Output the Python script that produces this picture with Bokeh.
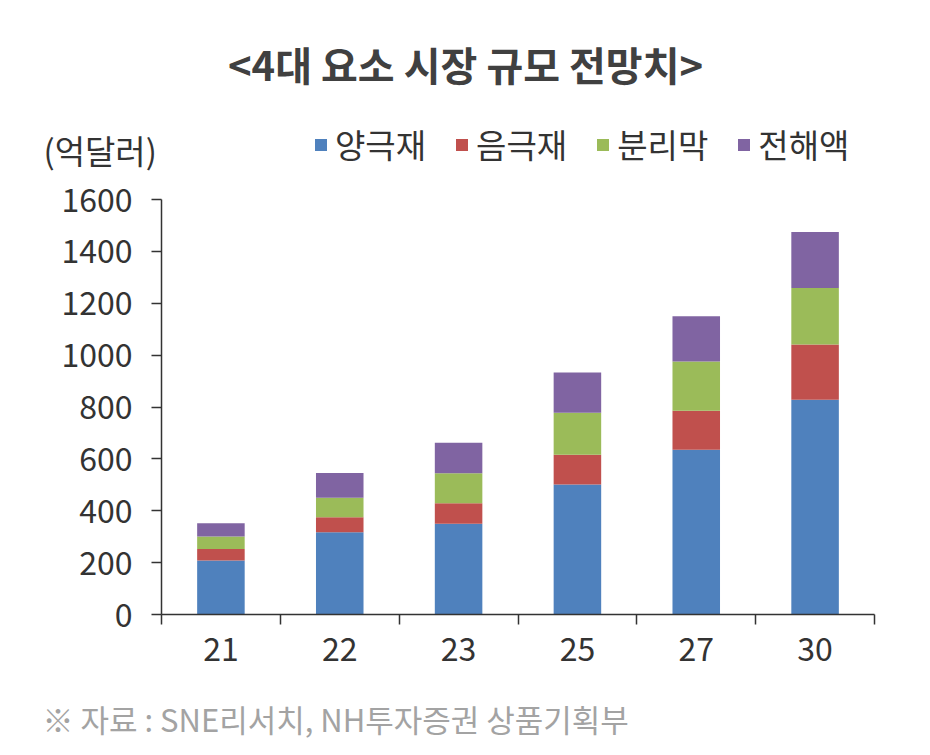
from bokeh.plotting import figure
from bokeh.layouts import column
from bokeh.models import Range1d, FixedTicker, Label, Legend, LegendItem, ColumnDataSource
from bokeh.embed import file_html
from bokeh.resources import INLINE

years = ["21", "22", "23", "25", "27", "30"]
series = ["양극재", "음극재", "분리막", "전해액"]
cathode = [208, 317, 350, 501, 635, 828]
anode = [45, 58, 79, 115, 151, 213]
separator = [48, 75, 116, 162, 189, 218]
electrolyte = [51, 96, 117, 155, 175, 216]
colors = ["#4f81bd", "#c0504d", "#9bbb59", "#8064a2"]
y_ticks = [0, 200, 400, 600, 800, 1000, 1200, 1400, 1600]
title_text = "<4대 요소 시장 규모 전망치>"
unit_text = "(억달러)"
source_text = "※ 자료 : SNE리서치, NH투자증권 상품기획부"

FONT = "Noto Sans CJK KR"
W = 930
HEAD_H = 175
MAIN_H = 505
FOOT_H = 75


def bare(fig):
    fig.outline_line_color = None
    fig.background_fill_color = "white"
    fig.border_fill_color = "white"
    if "frame_align" in fig.properties():
        fig.frame_align = False
    return fig


# ---------- header: title, unit, legend ----------
head = bare(figure(width=W, height=HEAD_H, output_backend="svg", toolbar_location=None,
                   x_range=Range1d(0, W), y_range=Range1d(HEAD_H, 0),
                   x_axis_type=None, y_axis_type=None, min_border=0,
                   min_border_left=0, min_border_right=0, min_border_top=0, min_border_bottom=0))
head.grid.visible = False
head.add_layout(Label(x=465, y=63, text=title_text, text_font=FONT, text_font_size="40px",
                      text_font_style="bold", text_color="#404040",
                      text_align="center", text_baseline="middle"))
head.add_layout(Label(x=43, y=149, text=unit_text, text_font=FONT, text_font_size="33px",
                      text_color="#333333", text_align="left", text_baseline="middle"))
# zero-size key glyphs that only give the legend its coloured squares
key_renderers = [head.vbar(x=[0], top=[0], bottom=[0], width=0, color=c, line_width=0) for c in colors]
legend = Legend(items=[LegendItem(label=s, renderers=[r]) for s, r in zip(series, key_renderers)],
                orientation="horizontal", location=(313, 7),
                glyph_width=15, glyph_height=15, label_standoff=7, spacing=28,
                label_text_font=FONT, label_text_font_size="33px", label_text_color="#333333",
                padding=0, margin=0, border_line_color=None, background_fill_alpha=0)
head.add_layout(legend, "center")

# ---------- main chart ----------
xs = [i + 0.5 for i in range(len(years))]
src = ColumnDataSource(dict(x=xs, 양극재=cathode, 음극재=anode, 분리막=separator, 전해액=electrolyte))

p = bare(figure(width=W, height=MAIN_H, output_backend="svg", toolbar_location=None,
                x_range=Range1d(0, len(years)), y_range=Range1d(0, 1600),
                min_border_left=161, min_border_right=56, min_border_top=24, min_border_bottom=66))
p.xgrid.visible = False
p.ygrid.visible = False

p.vbar_stack(series, x="x", width=0.4, source=src, color=colors, line_width=0)

p.yaxis.ticker = FixedTicker(ticks=y_ticks)
p.yaxis.major_label_text_font = FONT
p.yaxis.major_label_text_font_size = "32px"
p.yaxis.major_label_text_color = "#333333"
p.yaxis.major_tick_out = 10
p.yaxis.major_tick_in = 0
p.yaxis.minor_tick_line_color = None
p.yaxis.major_label_standoff = 19
p.yaxis.axis_line_color = "#333333"
p.yaxis.axis_line_width = 1.5
p.yaxis.major_tick_line_color = "#333333"
p.yaxis.major_tick_line_width = 1.5

p.xaxis.ticker = FixedTicker(ticks=xs, minor_ticks=list(range(len(years) + 1)))
p.xaxis.major_label_overrides = {x: y for x, y in zip(xs, years)}
p.xaxis.major_tick_line_color = None
p.xaxis.minor_tick_out = 10
p.xaxis.minor_tick_in = 0
p.xaxis.minor_tick_line_color = "#333333"
p.xaxis.minor_tick_line_width = 1.5
p.xaxis.axis_line_color = "#333333"
p.xaxis.axis_line_width = 1.5
p.xaxis.major_label_text_font = FONT
p.xaxis.major_label_text_font_size = "32px"
p.xaxis.major_label_text_color = "#333333"
p.xaxis.major_label_standoff = 12

# ---------- footer ----------
foot = bare(figure(width=W, height=FOOT_H, output_backend="svg", toolbar_location=None,
                   x_range=Range1d(0, W), y_range=Range1d(FOOT_H, 0),
                   x_axis_type=None, y_axis_type=None, min_border=0,
                   min_border_left=0, min_border_right=0, min_border_top=0, min_border_bottom=0))
foot.grid.visible = False
foot.add_layout(Label(x=42, y=38, text=source_text, text_font=FONT, text_font_size="31px",
                      text_color="#a3a3a3", text_align="left", text_baseline="middle"))

layout = column(head, p, foot, spacing=0)
open("out.html", "w").write(file_html(layout, INLINE))
